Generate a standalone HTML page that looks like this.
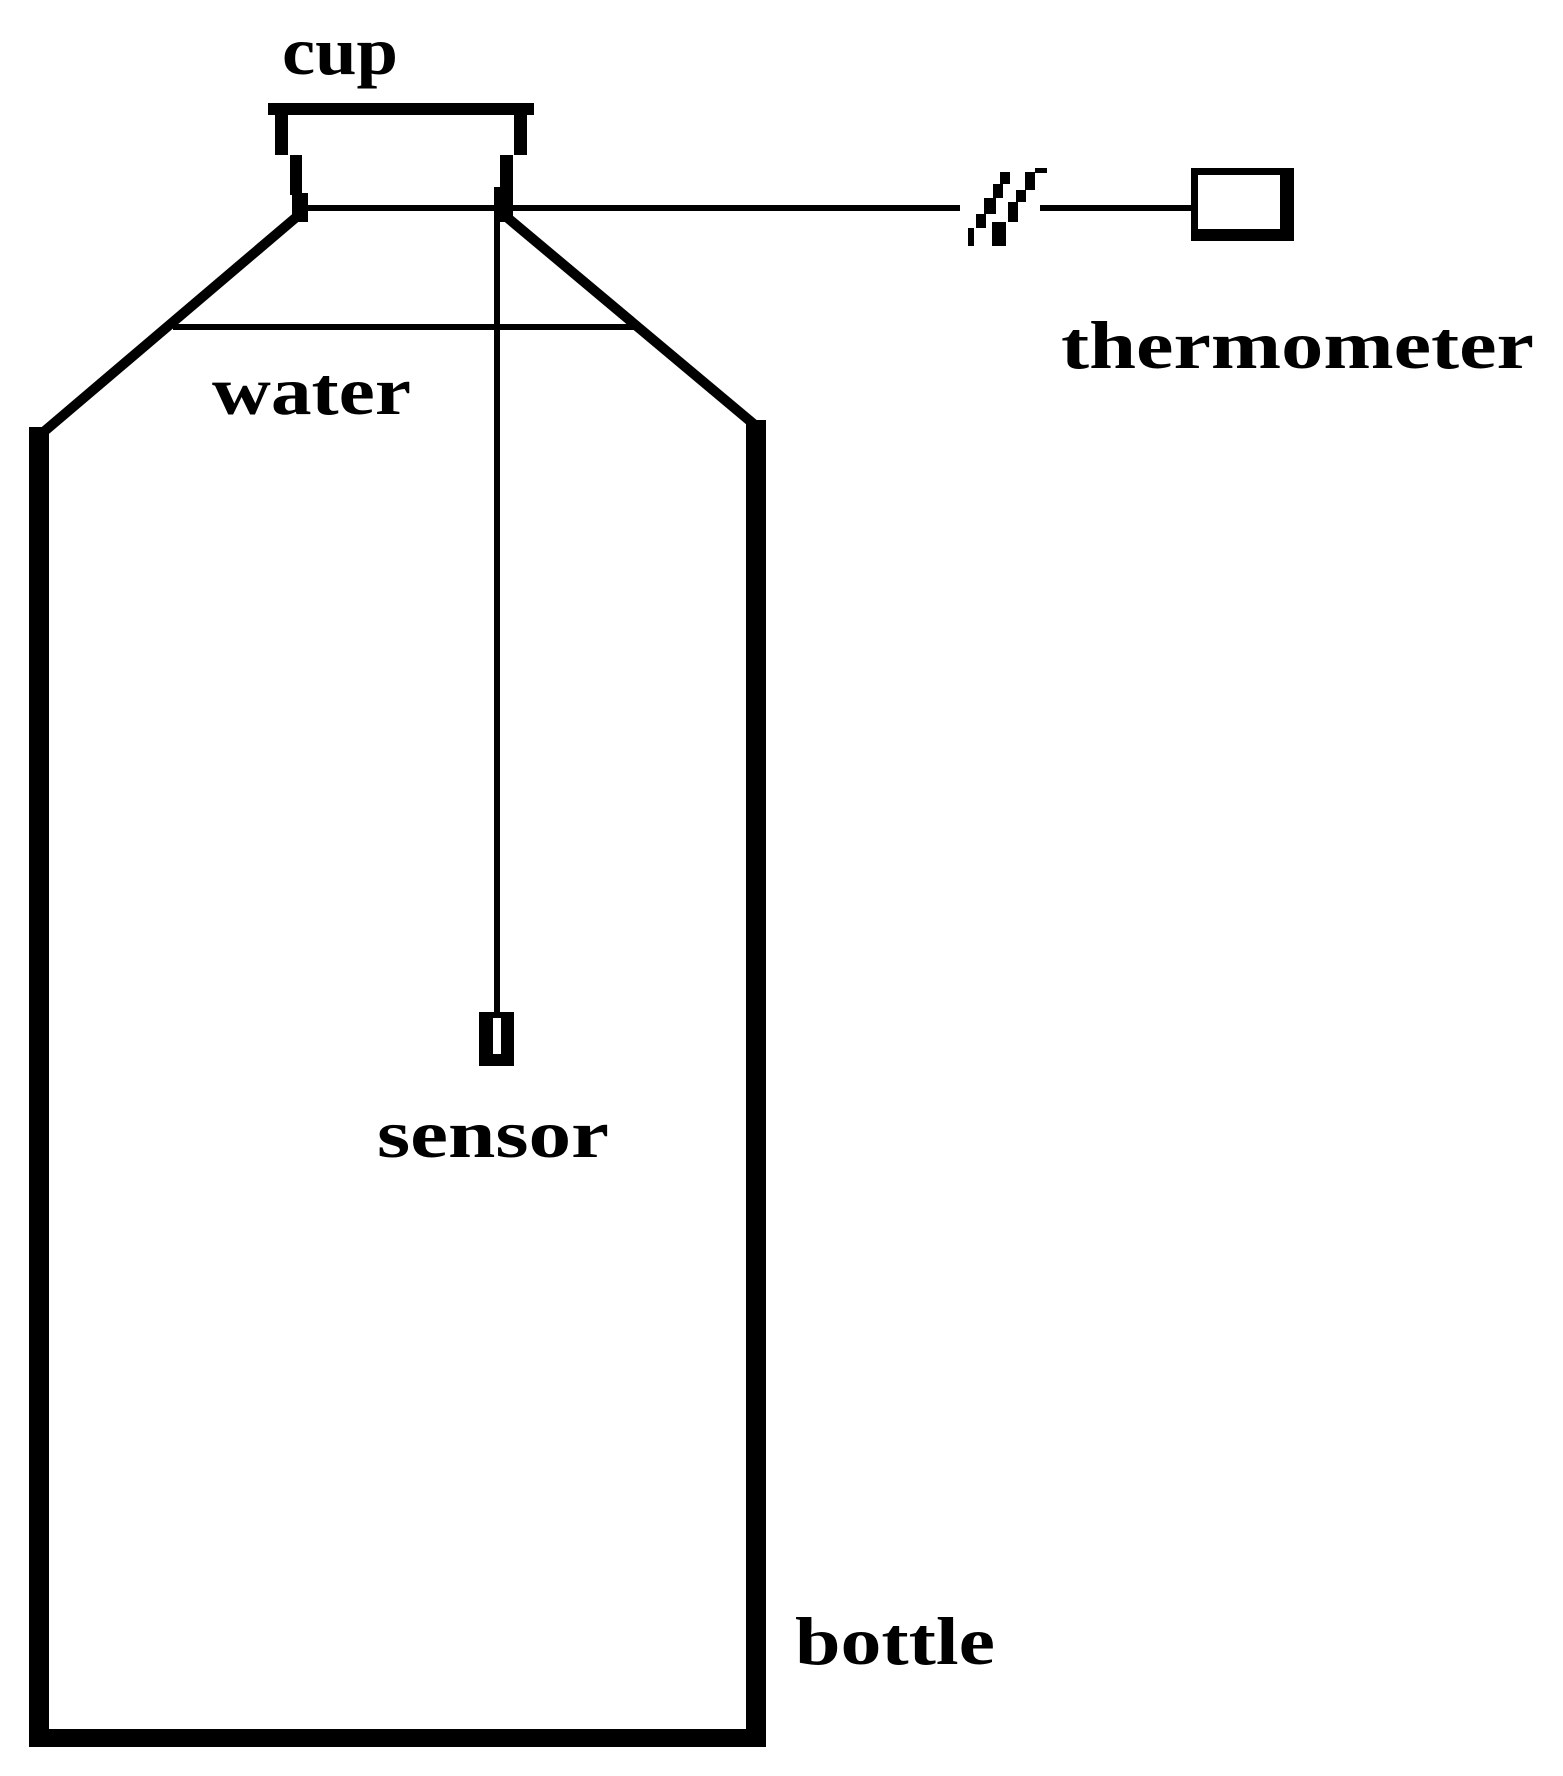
<!DOCTYPE html>
<html><head><meta charset="utf-8"><style>html,body{margin:0;padding:0;background:#fff}svg{display:block}</style></head>
<body>
<svg width="1563" height="1776" viewBox="0 0 1563 1776" xmlns="http://www.w3.org/2000/svg">
<rect width="1563" height="1776" fill="#fff"/>
<g fill="#000" shape-rendering="crispEdges">
<rect x="29" y="427" width="20" height="1320"/>
<rect x="746" y="420" width="20" height="1327"/>
<rect x="29" y="1729" width="737" height="18"/>
<rect x="268" y="103" width="266" height="12"/>
<rect x="275" y="115" width="13" height="40"/>
<rect x="290" y="155" width="12" height="40"/>
<rect x="292" y="193" width="16" height="29"/>
<rect x="514" y="115" width="13" height="40"/>
<rect x="500" y="155" width="13" height="35"/>
<rect x="494" y="187" width="19" height="35"/>
<rect x="300" y="205" width="660" height="6"/>
<rect x="1040" y="205" width="152" height="6"/>
<rect x="494" y="205" width="6" height="810"/>
<rect x="173" y="324" width="465" height="6"/>
<rect x="1191" y="168" width="103" height="7"/>
<rect x="1191" y="168" width="7" height="73"/>
<rect x="1280" y="168" width="14" height="73"/>
<rect x="1191" y="229" width="103" height="12"/>
<rect x="479" y="1012" width="35" height="6"/>
<rect x="479" y="1012" width="14" height="54"/>
<rect x="501" y="1012" width="13" height="54"/>
<rect x="479" y="1054" width="35" height="12"/>
<!-- break marks as pixel steps -->
<rect x="1000" y="172" width="10" height="12"/>
<rect x="993" y="184" width="10" height="14"/>
<rect x="984" y="198" width="12" height="16"/>
<rect x="976" y="214" width="10" height="14"/>
<rect x="968" y="228" width="6" height="18"/>
<rect x="1035" y="168" width="12" height="5"/>
<rect x="1025" y="172" width="10" height="18"/>
<rect x="1016" y="190" width="10" height="12"/>
<rect x="1008" y="202" width="10" height="20"/>
<rect x="992" y="222" width="14" height="24"/>
</g>
<line x1="300" y1="214" x2="40" y2="435" stroke="#000" stroke-width="10"/>
<line x1="503" y1="214" x2="756" y2="426" stroke="#000" stroke-width="10"/>
<g font-family="Liberation Serif, serif" font-weight="bold" font-size="68" fill="#000">
<text x="282" y="74" textLength="116" lengthAdjust="spacingAndGlyphs">cup</text>
<text x="212" y="414" textLength="199" lengthAdjust="spacingAndGlyphs">water</text>
<text x="1061" y="368" textLength="473" lengthAdjust="spacingAndGlyphs">thermometer</text>
<text x="377" y="1157" textLength="232" lengthAdjust="spacingAndGlyphs">sensor</text>
<text x="795" y="1664" textLength="200" lengthAdjust="spacingAndGlyphs">bottle</text>
</g>
</svg>
</body></html>
